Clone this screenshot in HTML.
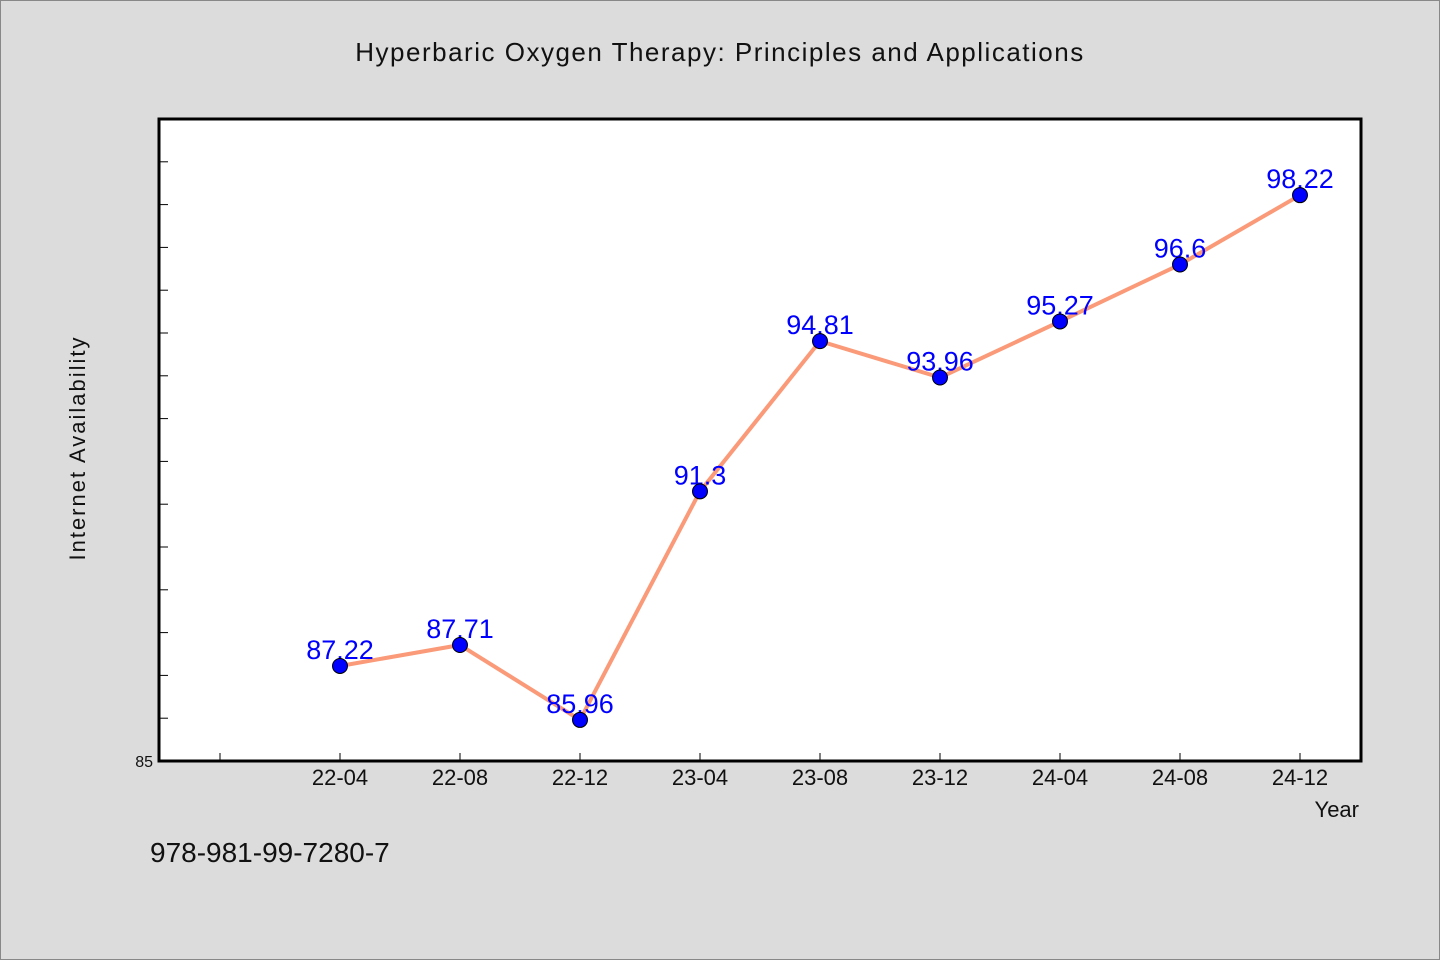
<!DOCTYPE html>
<html><head><meta charset="utf-8"><style>
body{margin:0;background:#dcdcdc;}
svg{display:block;font-family:"WenQuanYi Zen Hei","Liberation Sans",sans-serif;}
</style></head><body>
<svg width="1440" height="960">
<rect x="0.5" y="0.5" width="1439" height="959" fill="#dcdcdc" stroke="#888"/>
<text x="720" y="61" text-anchor="middle" font-size="26" letter-spacing="1.5" fill="#111">Hyperbaric Oxygen Therapy: Principles and Applications</text>
<rect x="159" y="119" width="1202" height="642" fill="#fff" stroke="#000" stroke-width="3"/>
<g id="yticks"></g>
<g id="xticks"></g>
<text x="85" y="448" transform="rotate(-90 85 448)" text-anchor="middle" font-size="22" letter-spacing="2" fill="#111">Internet Availability</text>
<text x="1359" y="817" text-anchor="end" font-size="22" fill="#111">Year</text>
<text x="150" y="862" font-size="28" fill="#111">978-981-99-7280-7</text>
<g id="series"></g>
</svg>
<script>
const categories=["22-04","22-08","22-12","23-04","23-08","23-12","24-04","24-08","24-12"];
const values=[87.22,87.71,85.96,91.3,94.81,93.96,95.27,96.6,98.22];
const labels=["87.22","87.71","85.96","91.3","94.81","93.96","95.27","96.6","98.22"];
const yTicks=[85];
const NS="http://www.w3.org/2000/svg";
function y(v){return 761-(v-85)*42.8;}
function x(i){return 220+120*(i+1);}
function mk(t,a,p){const e=document.createElementNS(NS,t);for(const k in a)e.setAttribute(k,a[k]);p.appendChild(e);return e;}
const yg=document.getElementById('yticks'),xg=document.getElementById('xticks'),sg=document.getElementById('series');
for(let v=86;v<=99;v++){const l=mk('line',{x1:160,x2:168,y1:y(v),y2:y(v),stroke:'#000','stroke-width':1},yg);

}
yTicks.forEach(v=>{const t=mk('text',{x:153,y:y(v)+6,'text-anchor':'end','font-size':16,fill:'#111'},yg);t.textContent=v;

});
const tk=mk('line',{x1:220,x2:220,y1:760,y2:753,stroke:'#000'},xg);


categories.forEach((c,i)=>{const l=mk('line',{x1:x(i),x2:x(i),y1:760,y2:753,stroke:'#000'},xg);


const t=mk('text',{x:x(i),y:785,'text-anchor':'middle','font-size':22,fill:'#111'},xg);t.textContent=c;

});
const pl=mk('polyline',{points:values.map((v,i)=>x(i)+','+y(v)).join(' '),fill:'none',stroke:'#fa9a78','stroke-width':4,'stroke-linejoin':'round'},sg);


values.forEach((v,i)=>{const t=mk('text',{x:x(i),y:y(v)-7,'text-anchor':'middle','font-size':27,fill:'#0000ff'},sg);t.textContent=labels[i];

});
values.forEach((v,i)=>{const c=mk('circle',{cx:x(i),cy:y(v),r:7.5,fill:'#0000ff',stroke:'#000','stroke-width':1},sg);

});
</script>
</body></html>
